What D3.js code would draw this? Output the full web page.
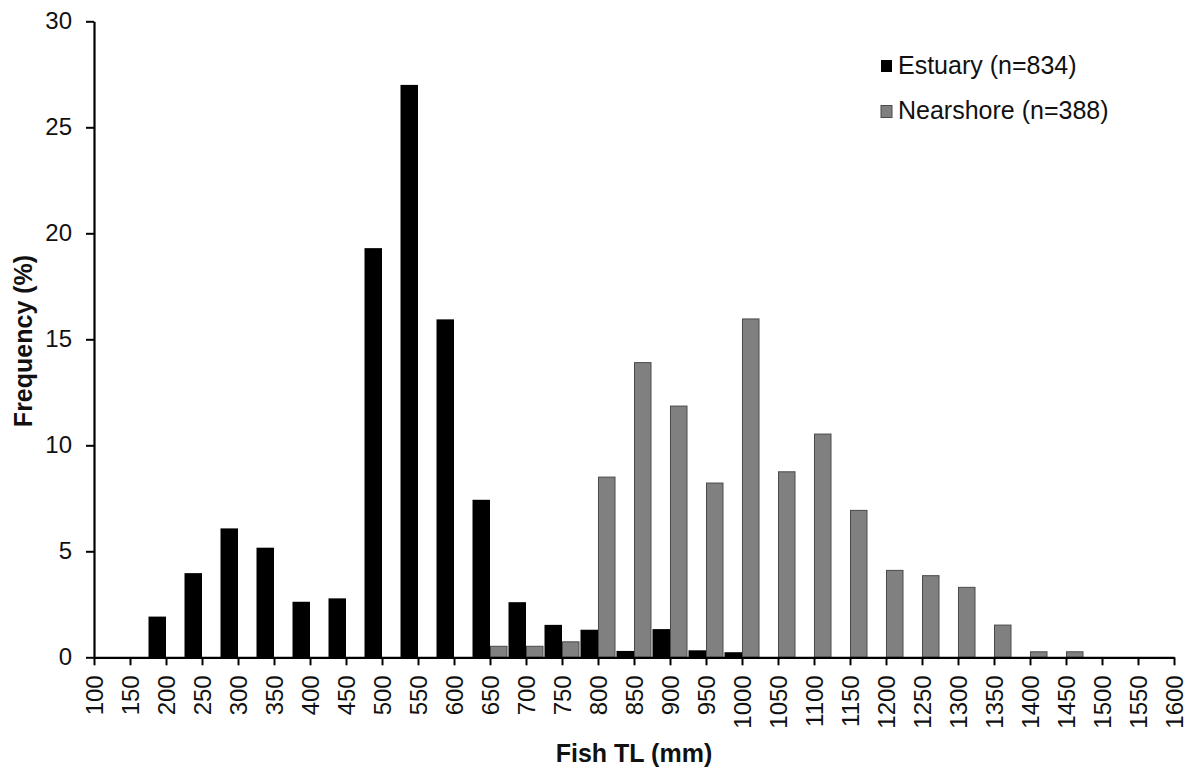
<!DOCTYPE html>
<html>
<head>
<meta charset="utf-8">
<script src="https://cdn.jsdelivr.net/npm/d3@7/dist/d3.min.js"></script>
<style>
  html, body { margin: 0; padding: 0; background: #fff; }
  svg { display: block; font-family: "Liberation Sans", Arial, sans-serif; }
</style>
</head>
<body>
<svg id="chart" width="1196" height="771"></svg>
<script>
// ---- Data ----
const categories = ["100","150","200","250","300","350","400","450","500","550","600","650","700","750","800","850","900","950","1000","1050","1100","1150","1200","1250","1300","1350","1400","1450","1500","1550","1600"];
const estuary    = [0, 0, 1.92, 3.97, 6.08, 5.17, 2.62, 2.78, 19.3, 27.0, 15.94, 7.43, 2.6, 1.53, 1.3, 0.3, 1.33, 0.33, 0.24, 0, 0, 0, 0, 0, 0, 0, 0, 0, 0, 0, 0];
const nearshore  = [0, 0, 0, 0, 0, 0, 0, 0, 0, 0, 0, 0.52, 0.52, 0.73, 8.5, 13.9, 11.85, 8.22, 15.96, 8.75, 10.53, 6.93, 4.1, 3.85, 3.3, 1.52, 0.26, 0.26, 0, 0, 0];
const yTicks     = [0, 5, 10, 15, 20, 25, 30];
const seriesNames = ["Estuary (n=834)", "Nearshore (n=388)"];

// ---- Layout ----
const mLeft = 94, mRight = 1174, mTop = 21.3, mBottom = 657.3;
const barW = 17.5;

const svg = d3.select("#chart");

const x = d3.scalePoint().domain(categories).range([mLeft, mRight]).padding(0);
const y = d3.scaleLinear().domain([0, 30]).range([mBottom, mTop]);

// Bars
const g = svg.append("g");
g.selectAll("rect.est")
  .data(categories.map((c, i) => ({c, v: estuary[i]})).filter(d => d.v > 0))
  .join("rect")
  .attr("class", "est")
  .attr("x", d => x(d.c) - barW)
  .attr("width", barW)
  .attr("y", d => y(d.v))
  .attr("height", d => y(0) - y(d.v))
  .attr("fill", "#000");

g.selectAll("rect.near")
  .data(categories.map((c, i) => ({c, v: nearshore[i]})).filter(d => d.v > 0))
  .join("rect")
  .attr("class", "near")
  .attr("x", d => x(d.c) + 0.5)
  .attr("width", barW - 1)
  .attr("y", d => y(d.v))
  .attr("height", d => y(0) - y(d.v))
  .attr("fill", "#808080")
  .attr("stroke", "#4a4a4a")
  .attr("stroke-width", 1);

// Y axis
const yAxis = svg.append("g")
  .attr("transform", `translate(${mLeft},0)`)
  .call(d3.axisLeft(y).tickValues(yTicks).tickSize(8).tickSizeOuter(0).tickPadding(14));
yAxis.select(".domain").attr("stroke", "#000").attr("stroke-width", 2.2);
yAxis.selectAll(".tick line").attr("stroke", "#000").attr("stroke-width", 2);
yAxis.selectAll(".tick text").attr("font-size", 24).attr("fill", "#111")
  .attr("font-family", "Liberation Sans, Arial, sans-serif");

// X axis
const xAxis = svg.append("g")
  .attr("transform", `translate(0,${mBottom})`)
  .call(d3.axisBottom(x).tickSize(8).tickSizeOuter(0));
xAxis.select(".domain").attr("stroke", "#000").attr("stroke-width", 2.2);
xAxis.selectAll(".tick line").attr("stroke", "#000").attr("stroke-width", 2);
xAxis.selectAll(".tick text")
  .attr("font-size", 24).attr("fill", "#111")
  .attr("font-family", "Liberation Sans, Arial, sans-serif")
  .attr("text-anchor", "end")
  .attr("transform", "rotate(-90)")
  .attr("x", -18)
  .attr("y", 0)
  .attr("dy", "0.36em");

// Axis titles
svg.append("text")
  .attr("x", 634).attr("y", 762)
  .attr("text-anchor", "middle")
  .attr("font-size", 25).attr("font-weight", "bold").attr("fill", "#111")
  .text("Fish TL (mm)");

svg.append("text")
  .attr("transform", "translate(32,341) rotate(-90)")
  .attr("text-anchor", "middle")
  .attr("font-size", 25).attr("font-weight", "bold").attr("fill", "#111")
  .text("Frequency (%)");

// Legend
const legend = svg.append("g");
const legColors = ["#000", "#808080"];
seriesNames.forEach((name, i) => {
  const yy = 60 + i * 45.5;
  legend.append("rect")
    .attr("x", 881).attr("y", yy).attr("width", 11).attr("height", 12)
    .attr("fill", legColors[i])
    .attr("stroke", i === 1 ? "#4a4a4a" : "none").attr("stroke-width", 1);
  legend.append("text")
    .attr("x", 898).attr("y", yy + 13.5)
    .attr("font-size", 25).attr("fill", "#111")
    .text(name);
});
</script>
</body>
</html>
